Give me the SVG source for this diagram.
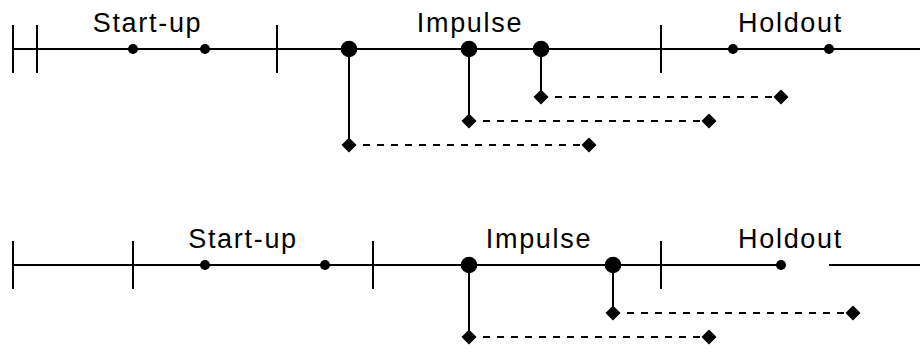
<svg xmlns="http://www.w3.org/2000/svg" xmlns:xlink="http://www.w3.org/1999/xlink" width="920" height="352" viewBox="0 0 920 352">
<style>
.ln{stroke:#000;stroke-width:2;fill:none}
.dash{stroke:#000;stroke-width:2;fill:none;stroke-dasharray:7 7}
.lbl{font-family:"Liberation Sans",Arial,sans-serif;font-size:27px;letter-spacing:1.7px;text-anchor:middle;fill:#000}
.big{fill:#000}
.sm{fill:#000}
.dia{fill:#000}
</style>
<defs>
<path id="dm" d="M0,-7.5 L7.5,0 L0,7.5 L-7.5,0 Z"/>
</defs>
<rect width="920" height="352" fill="#fff"/>
<g id="connectors">
<!-- top timeline -->
<line class="ln" x1="13" y1="49" x2="920" y2="49"/>
<line class="ln" x1="13" y1="25" x2="13" y2="73"/>
<line class="ln" x1="37" y1="25" x2="37" y2="73"/>
<line class="ln" x1="277" y1="25" x2="277" y2="73"/>
<line class="ln" x1="661" y1="25" x2="661" y2="73"/>
<line class="ln" x1="349" y1="49" x2="349" y2="145"/>
<line class="ln" x1="469" y1="49" x2="469" y2="121"/>
<line class="ln" x1="541" y1="49" x2="541" y2="97"/>
<line class="dash" x1="349" y1="145" x2="589" y2="145"/>
<line class="dash" x1="469" y1="121" x2="709" y2="121"/>
<line class="dash" x1="541" y1="97" x2="781" y2="97"/>
<!-- bottom timeline -->
<line class="ln" x1="13" y1="265" x2="781" y2="265"/>
<line class="ln" x1="829" y1="265" x2="920" y2="265"/>
<line class="ln" x1="13" y1="241" x2="13" y2="289"/>
<line class="ln" x1="133" y1="241" x2="133" y2="289"/>
<line class="ln" x1="373" y1="241" x2="373" y2="289"/>
<line class="ln" x1="661" y1="241" x2="661" y2="289"/>
<line class="ln" x1="469" y1="265" x2="469" y2="337"/>
<line class="ln" x1="613" y1="265" x2="613" y2="313"/>
<line class="dash" x1="469" y1="337" x2="709" y2="337"/>
<line class="dash" x1="613" y1="313" x2="853" y2="313"/>
</g>
<g id="labels">
<g id="lbl-top-startup"><text class="lbl" x="147.5" y="32">Start-up</text></g>
<g id="lbl-top-impulse"><text class="lbl" x="470" y="32">Impulse</text></g>
<g id="lbl-top-holdout"><text class="lbl" x="790.5" y="32">Holdout</text></g>
<g id="lbl-bot-startup"><text class="lbl" x="243" y="247.5">Start-up</text></g>
<g id="lbl-bot-impulse"><text class="lbl" x="539" y="247.5">Impulse</text></g>
<g id="lbl-bot-holdout"><text class="lbl" x="790.5" y="247.5">Holdout</text></g>
</g>
<g id="nodes">
<g id="t-s1"><circle class="sm" cx="133" cy="49" r="5"/></g>
<g id="t-s2"><circle class="sm" cx="205" cy="49" r="5"/></g>
<g id="t-s3"><circle class="sm" cx="733" cy="49" r="5"/></g>
<g id="t-s4"><circle class="sm" cx="829" cy="49" r="5"/></g>
<g id="t-b1"><circle class="big" cx="349" cy="49" r="8.3"/></g>
<g id="t-b2"><circle class="big" cx="469" cy="49" r="8.3"/></g>
<g id="t-b3"><circle class="big" cx="541" cy="49" r="8.3"/></g>
<g id="t-d1a"><use href="#dm" xlink:href="#dm" class="dia" x="349" y="145"/></g>
<g id="t-d1b"><use href="#dm" xlink:href="#dm" class="dia" x="589" y="145"/></g>
<g id="t-d2a"><use href="#dm" xlink:href="#dm" class="dia" x="469" y="121"/></g>
<g id="t-d2b"><use href="#dm" xlink:href="#dm" class="dia" x="709" y="121"/></g>
<g id="t-d3a"><use href="#dm" xlink:href="#dm" class="dia" x="541" y="97"/></g>
<g id="t-d3b"><use href="#dm" xlink:href="#dm" class="dia" x="781" y="97"/></g>
<g id="b-s1"><circle class="sm" cx="205" cy="265" r="5"/></g>
<g id="b-s2"><circle class="sm" cx="325" cy="265" r="5"/></g>
<g id="b-s3"><circle class="sm" cx="781" cy="265" r="5"/></g>
<g id="b-b1"><circle class="big" cx="469" cy="265" r="8.3"/></g>
<g id="b-b2"><circle class="big" cx="613" cy="265" r="8.3"/></g>
<g id="b-d1a"><use href="#dm" xlink:href="#dm" class="dia" x="469" y="337"/></g>
<g id="b-d1b"><use href="#dm" xlink:href="#dm" class="dia" x="709" y="337"/></g>
<g id="b-d2a"><use href="#dm" xlink:href="#dm" class="dia" x="613" y="313"/></g>
<g id="b-d2b"><use href="#dm" xlink:href="#dm" class="dia" x="853" y="313"/></g>
</g>
</svg>
